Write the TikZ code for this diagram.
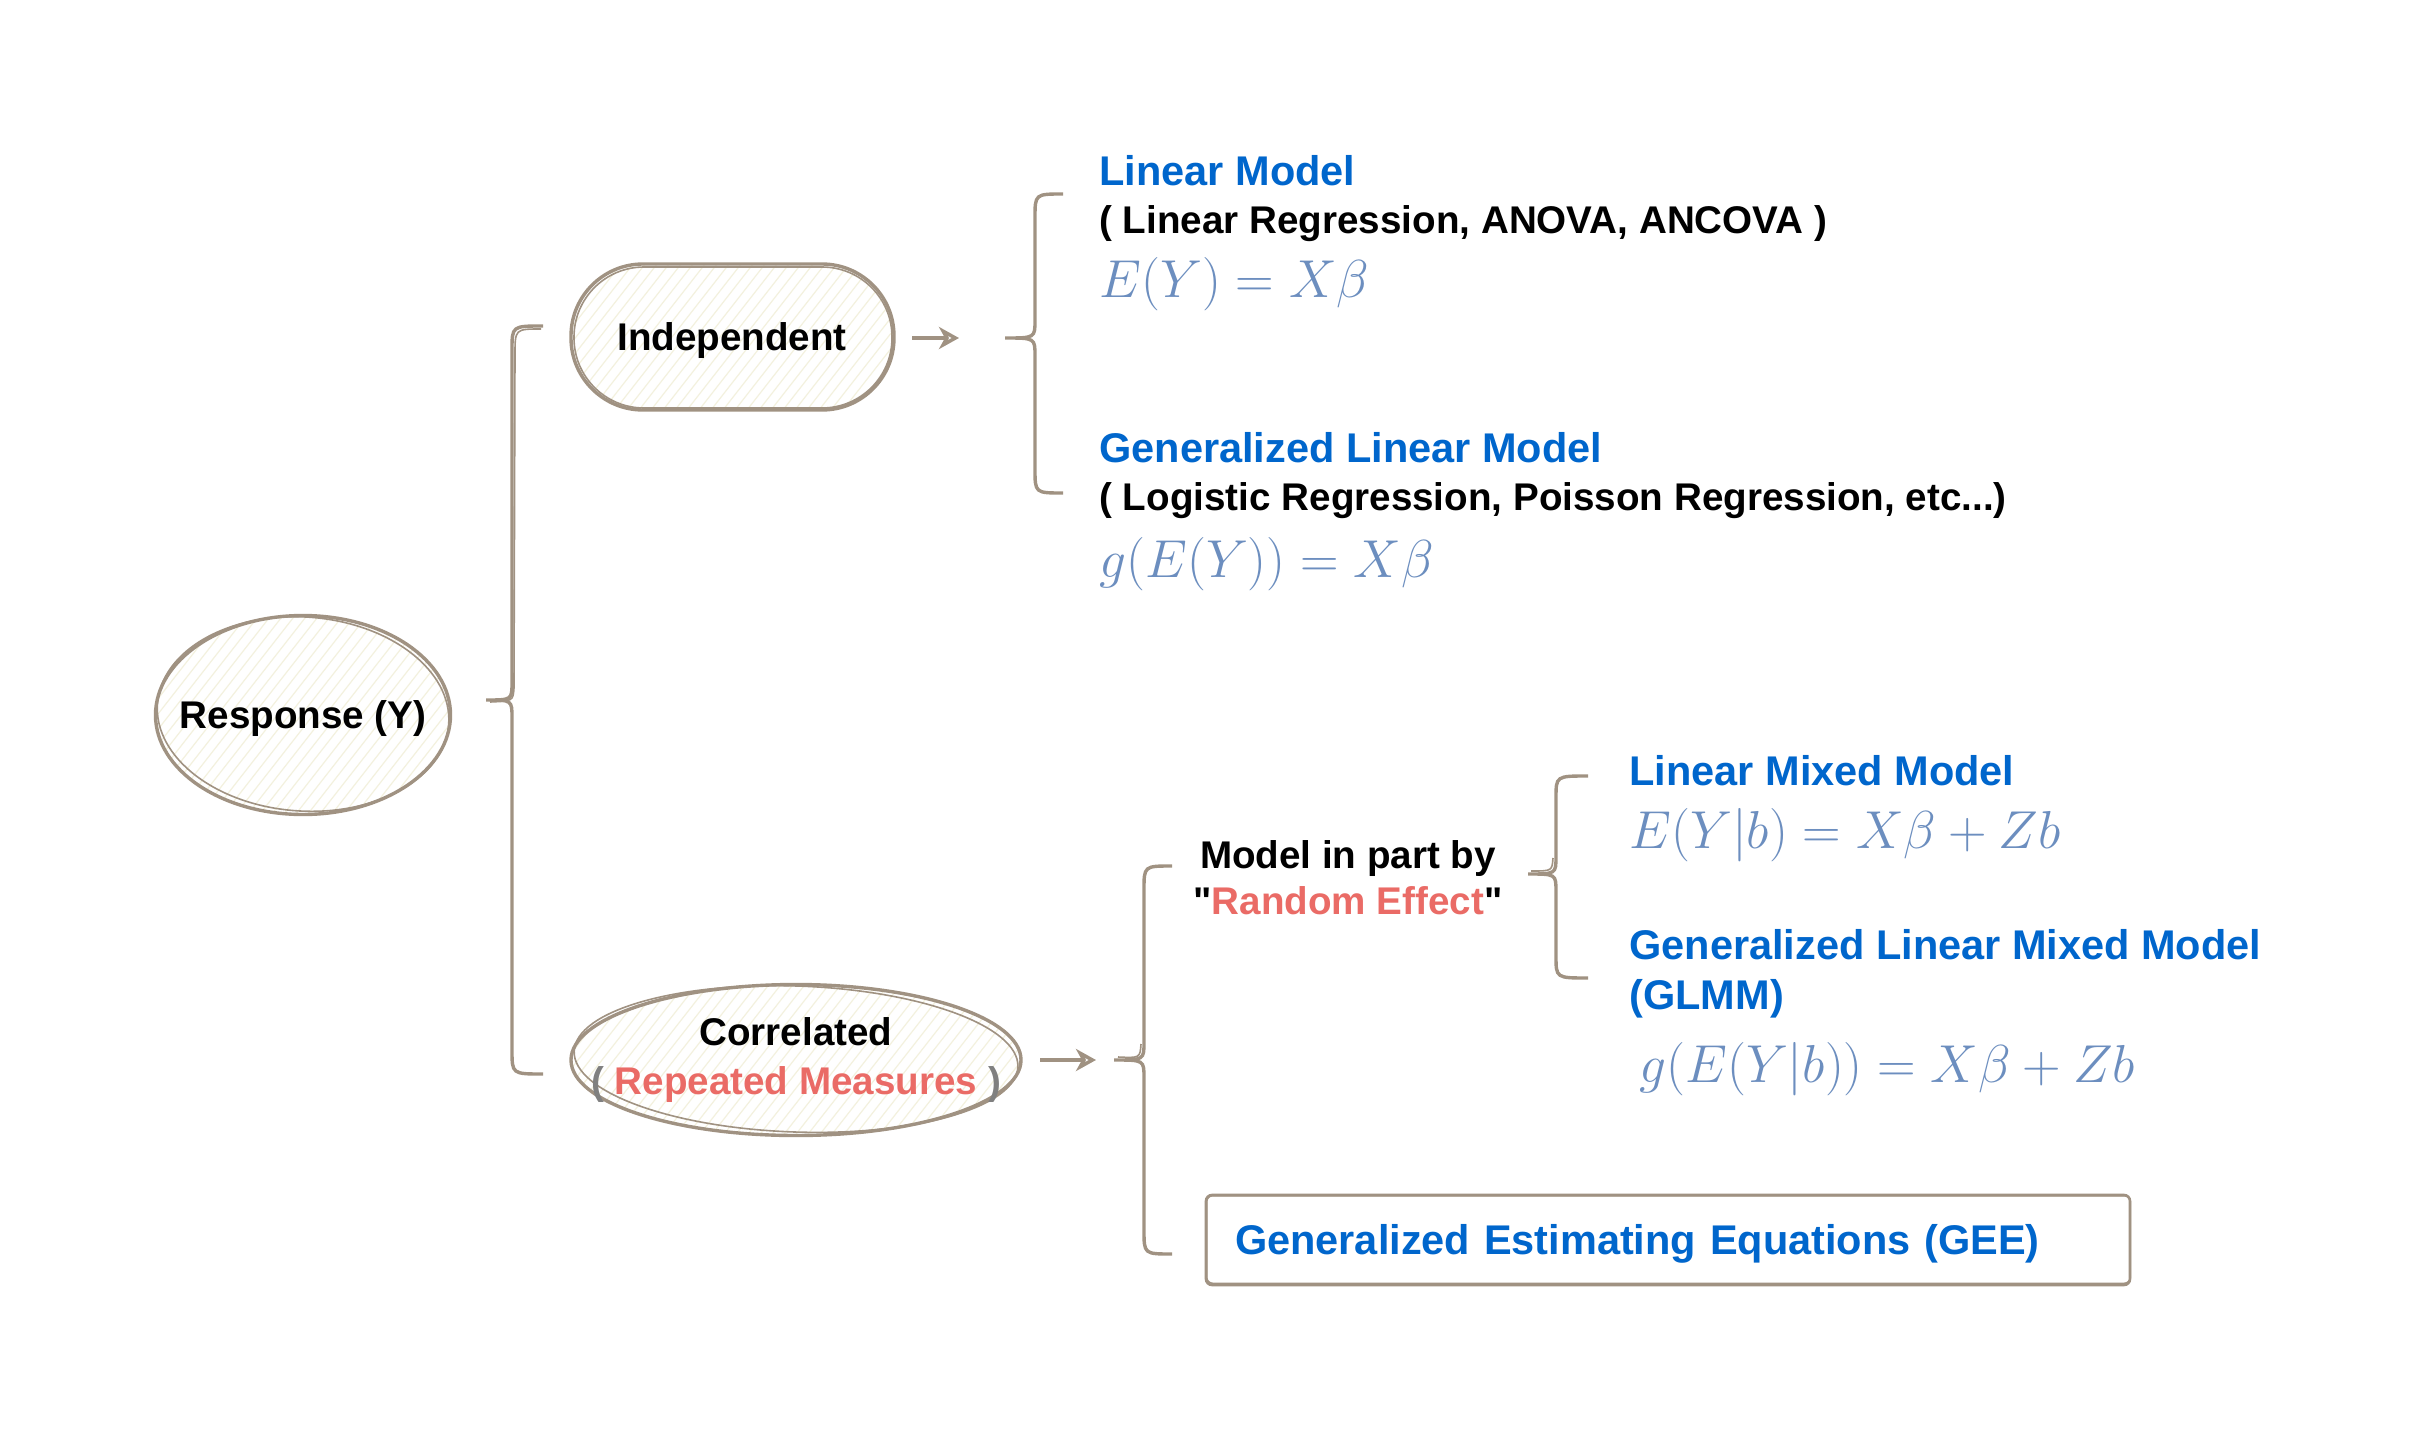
\RequirePackage{fix-cm}
\documentclass[tikz,border=0pt]{standalone}
\usepackage{fontspec}
\setmainfont{Liberation Sans}[Ligatures=TeXOff]
\usetikzlibrary{shapes.geometric,arrows.meta}
\definecolor{outl}{RGB}{160,146,130}
\definecolor{hatchc}{RGB}{243,241,222}
\definecolor{tblue}{HTML}{0066CC}
\definecolor{tred}{HTML}{EA6B66}
\definecolor{mblue}{HTML}{6C8EBF}
\definecolor{pgray}{HTML}{808080}
\newcommand{\titlef}{\fontsize{20.75}{25}\selectfont\bfseries}
\newcommand{\bodyf}{\fontsize{19.3}{23.5}\selectfont\bfseries}
\newcommand{\mathf}{\fontsize{26.7}{32}\selectfont}
\tikzset{
  outline/.style={draw=outl, line width=1.7pt},
  sketch/.style={draw=outl, line width=0.8pt},
  hatched/.style={path picture={\foreach \k in {-170,-164,...,260}
      \draw[hatchc, line width=0.6pt] ([xshift=\k pt]path picture bounding box.south west) -- ++(52:280pt);}},
  titletxt/.style={anchor=west, inner sep=0pt, font=\titlef, text=tblue, text height=14.86pt, text depth=0pt},
  bodytxt/.style={anchor=west, inner sep=0pt, font=\bodyf, text=black, text height=13.82pt, text depth=0pt},
  mathtxt/.style={anchor=west, inner sep=0pt, font=\mathf, text=mblue, text height=18.24pt, text depth=0pt},
  lbl/.style={inner sep=0pt, font=\bodyf, text height=13.82pt, text depth=0pt},
  arr/.style={draw=outl, line width=1.8pt, -{Stealth[open, length=10pt, width=11pt, inset=3pt]}},
}
\begin{document}
\begin{tikzpicture}[x=0.5pt, y=-0.5pt]
\useasboundingbox[fill=white] (0,0) rectangle (2433,1440);

% Response
\path[outline, hatched] (303,715) ellipse (73.75pt and 49.75pt);
\draw[sketch, rotate around={-4:(303,715)}] (303,714) ellipse (73pt and 48.5pt);
\node[lbl] (resp) at (303,715) {Response (Y)};

% Independent
\path[outline, hatched, rounded corners=36pt] (571,264) rectangle (894,410);
\draw[sketch, rounded corners=35pt] (574,267) rectangle (892,408);
\node[lbl] (ind) at (732,337) {Independent};

% Correlated
\path[outline, hatched] (796,1060) ellipse (112.5pt and 37.75pt);
\draw[sketch, rotate around={-2:(796,1060)}] (796,1059) ellipse (111pt and 36.5pt);
\node[inner sep=0pt, font=\bodyf, align=center] (cor) at (796,1060)
  {Correlated\\[0.9pt]{\color{pgray}(} {\color{tred}Repeated Measures} {\color{pgray})}};

% brace 1 : Response -> Independent / Correlated
\coordinate (b1t) at (543,326);
\coordinate (b1m) at (486,700);
\coordinate (b1b) at (543,1074);
\draw[outline] (b1t) .. controls (512,326) .. (512,350) -- (512,682) .. controls (512,700) .. (b1m)
  .. controls (512,700) .. (512,718) -- (512,1050) .. controls (512,1074) .. (b1b);
\draw[sketch] (541,329) .. controls (515,329) .. (515,355) -- (514,688) .. controls (513,701) .. (490,702);

% brace 2 : Independent -> models
\coordinate (a1s) at (912,338);
\coordinate (a1e) at (959,338);
\draw[arr] (a1s) -- (a1e);
\coordinate (b2t) at (1063,194);
\coordinate (b2m) at (1005,338);
\coordinate (b2b) at (1063,493);
\draw[outline] (b2t) .. controls (1035,194) .. (1035,218) -- (1035,320) .. controls (1035,338) .. (b2m)
  .. controls (1035,338) .. (1035,356) -- (1035,469) .. controls (1035,493) .. (b2b);

% brace 3 : Correlated -> options
\coordinate (a2s) at (1040,1060);
\coordinate (a2e) at (1096,1060);
\draw[arr] (a2s) -- (a2e);
\coordinate (b3t) at (1172,866);
\coordinate (b3m) at (1114,1060);
\coordinate (b3b) at (1172,1254);
\draw[outline] (b3t) .. controls (1144,866) .. (1144,890) -- (1144,1042) .. controls (1144,1060) .. (b3m)
  .. controls (1144,1060) .. (1144,1078) -- (1144,1230) .. controls (1144,1254) .. (b3b);
\draw[sketch] (1141,1044) .. controls (1140,1058) .. (1118,1057);

% brace 4 : random effect -> mixed models
\coordinate (b4t) at (1588,776);
\coordinate (b4m) at (1528,874);
\coordinate (b4b) at (1588,978);
\draw[outline] (b4t) .. controls (1556,776) .. (1556,798) -- (1556,856) .. controls (1556,874) .. (b4m)
  .. controls (1556,874) .. (1556,892) -- (1556,956) .. controls (1556,978) .. (b4b);
\draw[sketch] (1553,858) .. controls (1552,871) .. (1531,871);

% texts: independent branch
\node[titletxt] (lm) at (1099,171) {Linear Model};
\node[bodytxt] (lmsub) at (1099,220) {( Linear Regression, ANOVA, ANCOVA )};
\node[mathtxt] (lmeq) at (1099,279) {$E(Y) = X\beta$};
\node[titletxt] (glm) at (1099,448) {Generalized Linear Model};
\node[bodytxt] (glmsub) at (1099,497) {( Logistic Regression, Poisson Regression, etc...)};
\node[mathtxt] (glmeq) at (1099,559) {$g(E(Y)) = X\beta$};

% correlated branch
\node[inner sep=0pt, font=\bodyf, align=center] (ranef) at (1348,878)
  {Model in part by\\[-0.5pt]"{\color{tred}Random Effect}"};
\node[titletxt] (lmm) at (1629,771) {Linear Mixed Model};
\node[mathtxt] (lmmeq) at (1629,830) {$E(Y|b) = X\beta + Zb$};
\node[titletxt] (glmm) at (1629,945) {Generalized Linear Mixed Model};
\node[titletxt] (glmmab) at (1629,995) {(GLMM)};
\node[mathtxt] (glmmeq) at (1639,1064) {$g(E(Y|b)) = X\beta + Zb$};

\node[draw=outl, line width=1.3pt, rounded corners=3pt, minimum width=462pt, minimum height=45pt,
      text width=433pt, inner xsep=14.5pt, inner ysep=0pt, align=left, font=\titlef, text=tblue,
      text height=14.86pt, text depth=0pt] (gee) at (1668,1240)
  {Generalized Estimating Equations (GEE)};
\draw[sketch, rounded corners=3pt] ([shift={(2,-3)}]gee.south west) rectangle ([shift={(-1,2)}]gee.north east);
\end{tikzpicture}
\end{document}
